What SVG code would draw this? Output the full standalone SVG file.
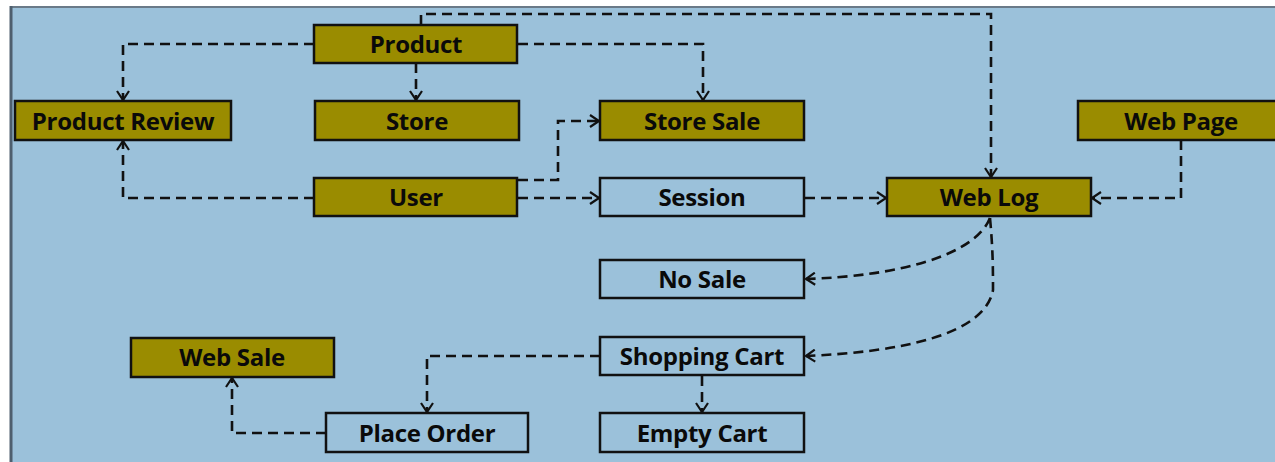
<svg xmlns="http://www.w3.org/2000/svg" width="1275" height="462" viewBox="0 0 1275 462">
<defs>
<marker id="arr" viewBox="0 0 14 14" refX="12" refY="7" markerWidth="14" markerHeight="14" markerUnits="userSpaceOnUse" orient="auto">
<path d="M3,1 L12,7 L3,13" fill="none" stroke="#111" stroke-width="2.2"/>
</marker>
</defs>
<style>
.bg{fill:#9bc1da}
.olive rect{fill:#9a8c00;stroke:#111;stroke-width:2.5}
.plain rect{fill:#9bc1da;stroke:#111;stroke-width:2.5}
text{font-family:"Open Sans","Noto Sans","DejaVu Sans",sans-serif;font-weight:bold;font-size:24px;fill:#0a0a0a;text-anchor:middle;letter-spacing:-0.3px}
#connectors path{fill:none;stroke:#111;stroke-width:2.6;stroke-dasharray:10,6}
#connectors path.a{marker-end:url(#arr)}
</style>
<rect x="0" y="0" width="1275" height="462" fill="#ffffff"/>
<rect class="bg" x="11" y="7" width="1270" height="460"/>
<line x1="11" y1="7" x2="1275" y2="7" stroke="#6a7a88" stroke-width="2"/>
<line x1="11" y1="6" x2="11" y2="462" stroke="#4e5f6e" stroke-width="3"/>
<g id="connectors">
<path class="a" d="M314,44 H123 V100"/>
<path class="a" d="M416,63 V100"/>
<path class="a" d="M518,44 H703 V100"/>
<path class="a" d="M421,25 V14 H991 V177"/>
<path class="a" d="M314,198 H123 V141"/>
<path class="a" d="M518,180 H558 V121 H599"/>
<path class="a" d="M518,198 H599"/>
<path class="a" d="M805,198 H886"/>
<path class="a" d="M1181,140 V198 H1092"/>
<path class="a" d="M990,218 C975,255 900,276 806,279"/>
<path class="a" d="M990,218 C993,250 993,270 993,290 C985,335 900,352 806,356"/>
<path class="a" d="M600,356 H427 V412"/>
<path class="a" d="M702,376 V412"/>
<path class="a" d="M326,433 H232 V378"/>
</g>
<g id="product" class="olive"><rect x="314" y="25" width="203" height="38"/><text x="416" y="53">Product</text></g>
<g id="product-review" class="olive"><rect x="15" y="101" width="216" height="39"/><text x="123" y="130">Product Review</text></g>
<g id="store" class="olive"><rect x="315" y="101" width="204" height="39"/><text x="417" y="130">Store</text></g>
<g id="store-sale" class="olive"><rect x="600" y="101" width="204" height="39"/><text x="702" y="130">Store Sale</text></g>
<g id="web-page" class="olive"><rect x="1078" y="101" width="210" height="39"/><text x="1181" y="130">Web Page</text></g>
<g id="user" class="olive"><rect x="314" y="178" width="203" height="38"/><text x="416" y="206">User</text></g>
<g id="session" class="plain"><rect x="600" y="178" width="204" height="38"/><text x="702" y="206">Session</text></g>
<g id="web-log" class="olive"><rect x="887" y="178" width="204" height="38"/><text x="989" y="206">Web Log</text></g>
<g id="no-sale" class="plain"><rect x="600" y="260" width="204" height="38"/><text x="702" y="288">No Sale</text></g>
<g id="web-sale" class="olive"><rect x="131" y="338" width="203" height="39"/><text x="232" y="366">Web Sale</text></g>
<g id="shopping-cart" class="plain"><rect x="600" y="337" width="204" height="38"/><text x="702" y="365">Shopping Cart</text></g>
<g id="place-order" class="plain"><rect x="326" y="413" width="202" height="39"/><text x="427" y="442">Place Order</text></g>
<g id="empty-cart" class="plain"><rect x="600" y="413" width="204" height="39"/><text x="702" y="442">Empty Cart</text></g>
</svg>
